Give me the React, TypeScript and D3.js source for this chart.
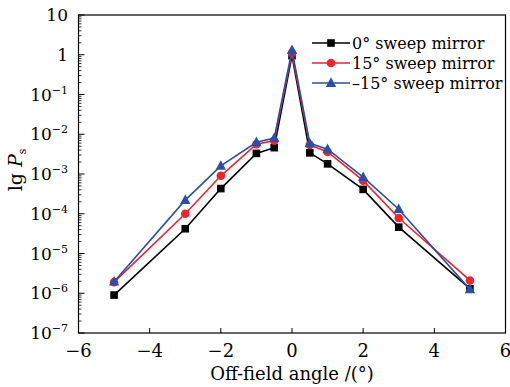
import React from "react";
import * as d3 from "d3";

const angles = [-5, -3, -2, -1, -0.5, 0, 0.5, 1, 2, 3, 5];
const black0 = [9e-7, 4.2e-5, 4.3e-4, 3.3e-3, 4.6e-3, 0.95, 3.4e-3, 1.8e-3, 4.1e-4, 4.6e-5, 1.3e-6];
const red15 = [1.9e-6, 1.0e-4, 9e-4, 5.6e-3, 6.9e-3, 1.1, 5.4e-3, 3.6e-3, 6.8e-4, 7.8e-5, 2.1e-6];
const blueM15 = [1.95e-6, 2.2e-4, 1.6e-3, 6.3e-3, 8e-3, 1.3, 5.9e-3, 4.2e-3, 8.3e-4, 1.3e-4, 1.25e-6];
const xTicks = [-6, -4, -2, 0, 2, 4, 6];
const yExps = [1, 0, -1, -2, -3, -4, -5, -6, -7];
const seriesNames = ["0° sweep mirror", "15° sweep mirror", "\u201315° sweep mirror"];

const W = 510, H = 387;
const L = 78.5, R = 505.5, T = 15, B = 333;
const FONT = "'DejaVu Serif', 'Liberation Serif', serif";

export default function App() {
  const x = d3.scaleLinear().domain([-6, 6]).range([L, R]);
  const y = d3.scaleLog().domain([1e-7, 10]).range([B, T]);
  const line = d3.line<[number, number]>().x(d => x(d[0])).y(d => y(d[1]));
  const series = [
    { vals: black0, color: "#000000", shape: "square" },
    { vals: red15, color: "#e8262b", shape: "circle" },
    { vals: blueM15, color: "#2b4fa6", shape: "triangle" },
  ];
  const minor: number[] = [];
  for (let e = -7; e < 1; e++) for (let m = 2; m <= 9; m++) minor.push(m * Math.pow(10, e));

  const marker = (shape: string, cx: number, cy: number, color: string, key: any) => {
    if (shape === "square") return <rect key={key} x={cx - 3.8} y={cy - 3.8} width={7.6} height={7.6} fill={color} />;
    if (shape === "circle") return <circle key={key} cx={cx} cy={cy} r={4.3} fill={color} />;
    const s = 5.2;
    return <path key={key} d={`M${cx},${cy - s * 1.1}L${cx + s},${cy + s * 0.75}L${cx - s},${cy + s * 0.75}Z`} fill={color} />;
  };

  return (
    <svg width={W} height={H} style={{ position: "absolute", left: 0, top: 0, background: "#fff" }} fontFamily={FONT}>
      {minor.map((v, i) => (
        <line key={"mi" + i} x1={L} x2={L + 3} y1={y(v)} y2={y(v)} stroke="#000" strokeWidth={0.8} />
      ))}
      {yExps.map(e => (
        <line key={"ma" + e} x1={L} x2={L + 6} y1={y(Math.pow(10, e))} y2={y(Math.pow(10, e))} stroke="#000" strokeWidth={1} />
      ))}
      {xTicks.map(t => (
        <line key={"xt" + t} x1={x(t)} x2={x(t)} y1={B} y2={B - 5} stroke="#000" strokeWidth={1} />
      ))}
      <rect x={L} y={T} width={R - L} height={B - T} fill="none" stroke="#000" strokeWidth={1.2} />

      {yExps.map(e => {
        const yy = y(Math.pow(10, e));
        if (e === 1) return <text key={"yl" + e} x={68} y={yy + 6} textAnchor="end" fontSize={17}>10</text>;
        if (e === 0) return <text key={"yl" + e} x={68} y={yy + 6} textAnchor="end" fontSize={17}>1</text>;
        return (
          <text key={"yl" + e} x={68} y={yy + 6} textAnchor="end" fontSize={17}>
            10<tspan dy={-7} fontSize={11}>{"\u2212" + -e}</tspan>
          </text>
        );
      })}
      {xTicks.map(t => (
        <text key={"xl" + t} x={x(t)} y={357} textAnchor="middle" fontSize={18}>
          {t < 0 ? "\u2212" + -t : String(t)}
        </text>
      ))}
      <text x={292} y={380} textAnchor="middle" fontSize={18}>Off-field angle /(°)</text>
      <text transform={`translate(22,${(T + B) / 2 - 4}) rotate(-90)`} textAnchor="middle" fontSize={19}>
        lg <tspan fontStyle="italic">P</tspan><tspan fontSize={11} dy={4}>s</tspan>
      </text>

      {series.map((s, si) => (
        <g key={"s" + si}>
          <path d={line(angles.map((a, i) => [a, s.vals[i]]) as [number, number][]) || ""} fill="none" stroke={s.color} strokeWidth={1.6} />
          {angles.map((a, i) => marker(s.shape, x(a), y(s.vals[i]), s.color, i))}
        </g>
      ))}

      {series.map((s, si) => {
        const ly = 43 + si * 20;
        return (
          <g key={"lg" + si}>
            <line x1={312} x2={350} y1={ly} y2={ly} stroke={s.color} strokeWidth={1.6} />
            {marker(s.shape, 331, ly, s.color, "m")}
            <text x={352} y={ly + 5.5} fontSize={16}>{seriesNames[si]}</text>
          </g>
        );
      })}
    </svg>
  );
}
